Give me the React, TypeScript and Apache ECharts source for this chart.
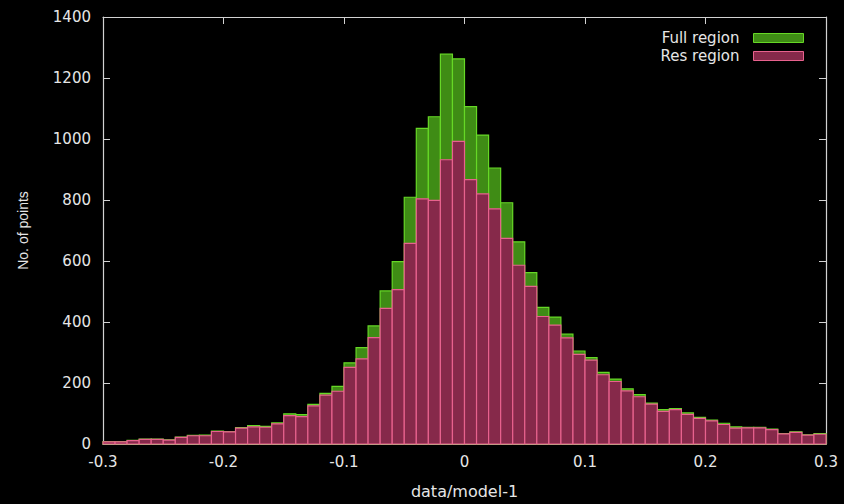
import React, { useEffect, useRef } from "react";
import * as echarts from "echarts";

// Histogram of data/model-1, bins of width 0.01 from -0.3 to 0.3
const BIN_START = -0.3;
const BIN_WIDTH = 0.01;

const fullRegion = [
  8, 8, 12, 16, 16, 14, 23, 28, 29, 42,
  41, 54, 60, 58, 69, 99, 96, 130, 166, 189,
  266, 316, 387, 502, 598, 809, 1035, 1073, 1278, 1263,
  1106, 1013, 905, 791, 663, 562, 448, 416, 360, 305,
  283, 235, 213, 181, 162, 134, 113, 116, 102, 87,
  78, 68, 56, 55, 55, 49, 34, 40, 30, 34,
];

const resRegion = [
  7, 7, 11, 15, 15, 13, 22, 27, 27, 41,
  40, 52, 56, 55, 66, 93, 90, 125, 160, 173,
  251, 279, 349, 445, 506, 658, 804, 799, 932, 992,
  867, 820, 771, 674, 586, 517, 418, 390, 348, 294,
  275, 227, 205, 174, 155, 131, 107, 113, 97, 84,
  76, 64, 52, 53, 53, 47, 33, 38, 29, 32,
];

const seriesNames = ["Full region", "Res region"];

const GREEN_FILL = "#3f8c15";
const GREEN_EDGE = "#66d826";
const PINK_FILL = "#86294a";
const PINK_EDGE = "#e8628e";
const AXIS_COLOR = "#d2d2d2";
const TEXT_COLOR = "#e6e6e6";
const FONT = "'DejaVu Sans', sans-serif";
const NAME_FONT = "'Liberation Sans', Arial, sans-serif";

const toBins = (counts: number[]) =>
  counts.map((c, i) => [+(BIN_START + i * BIN_WIDTH).toFixed(2), c]);

const boxRenderer = (fill: string, edge: string) => (_params: any, api: any) => {
  const left = api.value(0);
  const count = api.value(1);
  const topLeft = api.coord([left, count]);
  const bottomRight = api.coord([left + BIN_WIDTH, 0]);
  return {
    type: "rect",
    shape: {
      x: topLeft[0],
      y: topLeft[1],
      width: bottomRight[0] - topLeft[0],
      height: bottomRight[1] - topLeft[1],
    },
    style: { fill, stroke: edge, lineWidth: 1.2 },
  };
};

const axisLine = { show: true, onZero: false, lineStyle: { color: AXIS_COLOR, width: 1.2 } };
const axisTick = { show: true, inside: true, length: 7, lineStyle: { color: AXIS_COLOR } };

const mirrorAxis = {
  show: true,
  axisLine,
  axisTick,
  axisLabel: { show: false },
  splitLine: { show: false },
};

export default function App() {
  const ref = useRef<HTMLDivElement>(null);

  useEffect(() => {
    if (!ref.current) return;
    const chart = echarts.init(ref.current, undefined, { renderer: "svg" });
    chart.setOption({
      animation: false,
      backgroundColor: "#000000",
      textStyle: { fontFamily: FONT },
      grid: { left: 103, right: 18, top: 17, bottom: 57 },
      legend: {
        orient: "vertical",
        right: 35,
        top: 25,
        align: "right",
        itemWidth: 50,
        itemHeight: 9,
        itemGap: 2,
        icon: "rect",
        textStyle: {
          color: TEXT_COLOR,
          fontSize: 15,
          fontFamily: FONT,
          lineHeight: 16,
          padding: [0, 9, 0, 0],
        },
        data: [
          { name: seriesNames[0], itemStyle: { color: GREEN_FILL, borderColor: GREEN_EDGE, borderWidth: 1 } },
          { name: seriesNames[1], itemStyle: { color: PINK_FILL, borderColor: PINK_EDGE, borderWidth: 1 } },
        ],
      },
      xAxis: [
        {
          type: "value",
          min: -0.3,
          max: 0.3,
          interval: 0.1,
          name: "data/model-1",
          nameLocation: "middle",
          nameGap: 39,
          nameTextStyle: { color: TEXT_COLOR, fontSize: 16, fontFamily: FONT },
          axisLine,
          axisTick,
          axisLabel: {
            color: TEXT_COLOR,
            fontSize: 15,
            fontFamily: FONT,
            margin: 10,
            formatter: (v: number) => String(+v.toFixed(1)),
          },
          splitLine: { show: false },
        },
        {
          ...mirrorAxis,
          type: "value",
          position: "top",
          min: -0.3,
          max: 0.3,
          interval: 0.1,
        },
      ],
      yAxis: [
        {
          type: "value",
          min: 0,
          max: 1400,
          interval: 200,
          name: "No. of points",
          nameLocation: "middle",
          nameGap: 73,
          nameRotate: 90,
          nameTextStyle: { color: TEXT_COLOR, fontSize: 14, fontFamily: NAME_FONT },
          axisLine,
          axisTick,
          axisLabel: {
            color: TEXT_COLOR,
            fontSize: 15,
            fontFamily: FONT,
            margin: 12,
            formatter: (v: number) => String(v),
          },
          splitLine: { show: false },
        },
        {
          ...mirrorAxis,
          type: "value",
          position: "right",
          min: 0,
          max: 1400,
          interval: 200,
        },
      ],
      series: [
        {
          name: seriesNames[0],
          type: "custom",
          renderItem: boxRenderer(GREEN_FILL, GREEN_EDGE),
          itemStyle: { color: GREEN_FILL },
          encode: { x: 0, y: 1 },
          data: toBins(fullRegion),
          z: 2,
        },
        {
          name: seriesNames[1],
          type: "custom",
          renderItem: boxRenderer(PINK_FILL, PINK_EDGE),
          itemStyle: { color: PINK_FILL },
          encode: { x: 0, y: 1 },
          data: toBins(resRegion),
          z: 3,
        },
      ],
    });
    return () => chart.dispose();
  }, []);

  return (
    <div
      ref={ref}
      style={{ position: "fixed", left: 0, top: 0, width: 844, height: 504, background: "#000" }}
    />
  );
}
